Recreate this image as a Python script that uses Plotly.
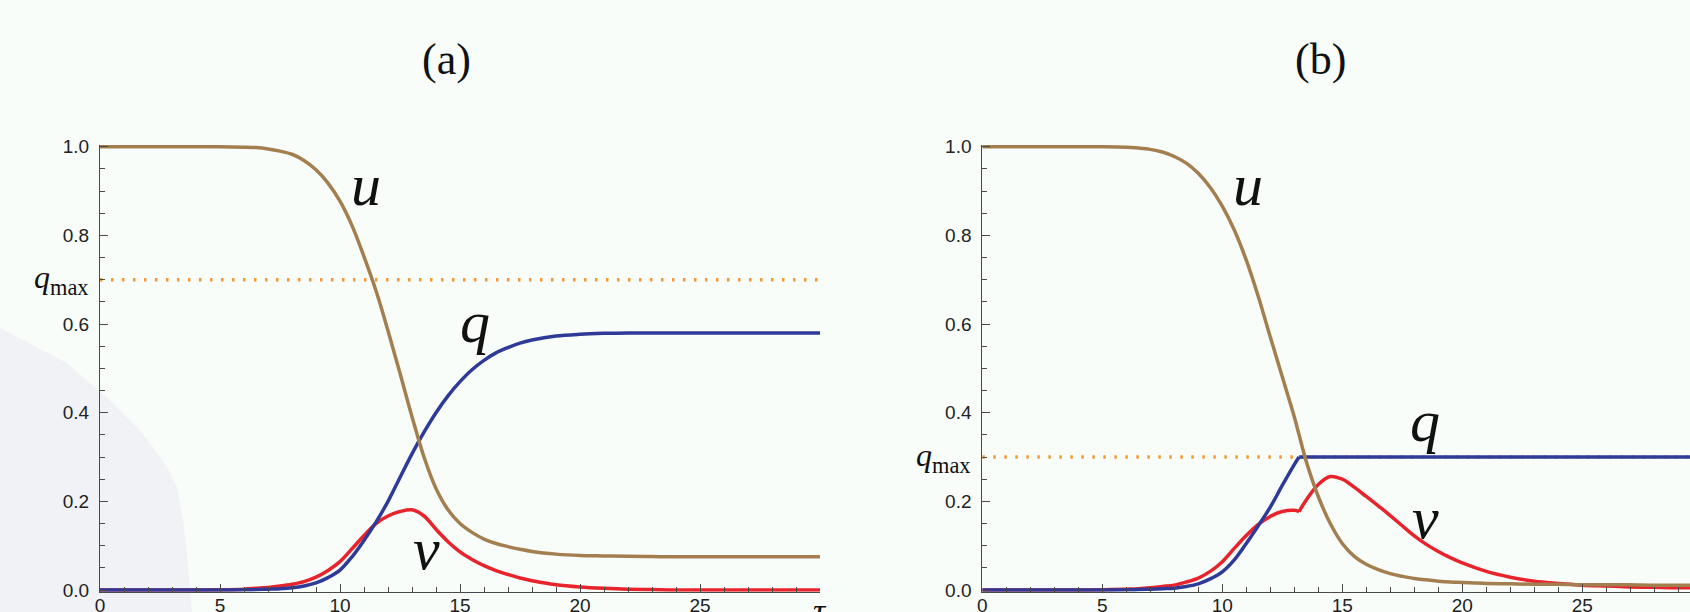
import plotly.graph_objects as go

# ---------------- data ----------------
t_a = [0, 1, 2, 3, 4, 5, 6, 6.5, 7, 7.5, 8, 8.5, 9, 9.5, 10, 10.5, 11, 11.5, 12, 12.5,
       13, 13.5, 14, 14.5, 15, 15.5, 16, 16.5, 17, 17.5, 18, 19, 20, 21, 22, 23, 24,
       25, 26, 27, 28, 29, 30]
u_a = [1, 1, 1, 1, 1, 1, 0.999, 0.998, 0.995, 0.990, 0.983, 0.969, 0.948, 0.918, 0.877,
       0.822, 0.752, 0.675, 0.585, 0.489, 0.391, 0.300, 0.229, 0.181, 0.150, 0.130,
       0.115, 0.105, 0.098, 0.092, 0.087, 0.081, 0.078, 0.077, 0.076, 0.0755, 0.075,
       0.075, 0.075, 0.075, 0.075, 0.075, 0.075]
q_a = [0, 0, 0, 0, 0, 0, 0.0005, 0.001, 0.002, 0.003, 0.005, 0.009, 0.016, 0.028, 0.045,
       0.075, 0.112, 0.153, 0.200, 0.254, 0.307, 0.356, 0.400, 0.438, 0.470, 0.497,
       0.518, 0.535, 0.547, 0.557, 0.564, 0.573, 0.577, 0.579, 0.580, 0.580, 0.580,
       0.580, 0.580, 0.580, 0.580, 0.580, 0.580]
v_a = [0, 0, 0, 0, 0, 0.0005, 0.002, 0.004, 0.006, 0.009, 0.013, 0.019, 0.029, 0.044,
       0.064, 0.093, 0.123, 0.150, 0.167, 0.177, 0.181, 0.167, 0.137, 0.109, 0.086,
       0.069, 0.055, 0.044, 0.035, 0.027, 0.021, 0.012, 0.007, 0.004, 0.002, 0.001, 0,
       0, 0, 0, 0, 0, 0]
qmax_a = 0.7

t_b = [0, 1, 2, 3, 4, 5, 6, 6.5, 7, 7.5, 8, 8.5, 9, 9.5, 10, 10.5, 11, 11.5, 12, 12.5,
       13, 13.2, 13.5, 14, 14.5, 15, 15.5, 16, 16.5, 17, 17.5, 18, 18.5, 19, 19.5, 20,
       21, 22, 23, 24, 25, 26, 27, 28, 29, 30]
u_b = [1, 1, 1, 1, 1, 1, 0.999, 0.997, 0.994, 0.988, 0.978, 0.963, 0.940, 0.908, 0.866,
       0.812, 0.744, 0.662, 0.571, 0.481, 0.391, 0.350, 0.290, 0.211, 0.150, 0.105,
       0.076, 0.058, 0.046, 0.037, 0.031, 0.026, 0.023, 0.020, 0.018, 0.017, 0.015,
       0.014, 0.013, 0.013, 0.012, 0.012, 0.012, 0.011, 0.011, 0.011]
q_b = [0, 0, 0, 0, 0, 0, 0.0005, 0.001, 0.002, 0.003, 0.004, 0.008, 0.014, 0.025, 0.041,
       0.068, 0.105, 0.145, 0.187, 0.236, 0.283, 0.300, 0.300, 0.300, 0.300, 0.300,
       0.300, 0.300, 0.300, 0.300, 0.300, 0.300, 0.300, 0.300, 0.300, 0.300, 0.300,
       0.300, 0.300, 0.300, 0.300, 0.300, 0.300, 0.300, 0.300, 0.300]
v_b = [0, 0, 0, 0, 0, 0.0005, 0.002, 0.003, 0.005, 0.008, 0.011, 0.018, 0.027, 0.042,
       0.064, 0.094, 0.123, 0.148, 0.166, 0.177, 0.180, 0.177, 0.203, 0.238, 0.256,
       0.250, 0.232, 0.211, 0.190, 0.168, 0.145, 0.122, 0.103, 0.087, 0.073, 0.061,
       0.042, 0.029, 0.020, 0.015, 0.011, 0.009, 0.007, 0.006, 0.005, 0.005]
qmax_b = 0.3
kink_b = 21  # index of t = 13.2 where q reaches qmax

y_ticks = [0, 0.2, 0.4, 0.6, 0.8, 1.0]
y_ticktext = ["0.0", "0.2", "0.4", "0.6", "0.8", "1.0"]
x_ticks = [0, 5, 10, 15, 20, 25, 30]
x_ticktext = ["0", "5", "10", "15", "20", "25", ""]

# ---------------- style ----------------
C_U = "#A37F50"
C_Q = "#2F3A98"
C_V = "#E8232B"
C_QMAX = "#F59A35"
LW = 3.5
BG = "#F8FDFA"
AX = "#4A4A4A"

W, H = 1690, 612
fig = go.Figure()


def line(x, y, color, xa, ya, shape="spline", dash=None, width=LW):
    fig.add_trace(go.Scatter(
        x=x, y=y, mode="lines", xaxis=xa, yaxis=ya, hoverinfo="skip",
        line=dict(color=color, width=width, shape=shape, smoothing=1.0, dash=dash),
        showlegend=False))


# panel (a)
line([t_a[0], t_a[-1]], [qmax_a, qmax_a], C_QMAX, "x", "y", shape="linear",
     dash="2.5px,8.5px", width=3.5)
line(t_a, v_a, C_V, "x", "y")
line(t_a, q_a, C_Q, "x", "y")
line(t_a, u_a, C_U, "x", "y")

# panel (b)
line([t_b[0], t_b[-1]], [qmax_b, qmax_b], C_QMAX, "x2", "y2", shape="linear",
     dash="2.5px,8.5px", width=3.5)
line(t_b[:kink_b + 1], v_b[:kink_b + 1], C_V, "x2", "y2")
line(t_b[kink_b:], v_b[kink_b:], C_V, "x2", "y2")
line(t_b[:kink_b + 1], q_b[:kink_b + 1], C_Q, "x2", "y2")
line(t_b[kink_b:], q_b[kink_b:], C_Q, "x2", "y2", shape="linear")
line(t_b, u_b, C_U, "x2", "y2")

# ---------------- axes ----------------
y_dom = [(H - 591.8) / H, (H - 144.5) / H]
tickfont = dict(family="Liberation Sans, Arial, sans-serif", size=19, color="#222")
common = dict(showline=True, linecolor=AX, linewidth=1, ticks="inside", ticklen=8,
              tickcolor=AX, tickwidth=1, showgrid=False, zeroline=False,
              tickfont=tickfont, fixedrange=True, automargin=False)
yax = dict(common, range=[-0.004, 1.005], tickvals=y_ticks, ticktext=y_ticktext,
           domain=y_dom, ticklabelstandoff=6,
           minor=dict(ticks="inside", ticklen=5, tickcolor=AX, dtick=0.05, tick0=0))
xax = dict(common, tickvals=x_ticks, ticktext=x_ticktext, ticklabelstandoff=-4,
           minor=dict(ticks="inside", ticklen=5, tickcolor=AX, dtick=1, tick0=0))

fig.update_layout(
    width=W, height=H, margin=dict(l=0, r=0, t=0, b=0, autoexpand=False),
    paper_bgcolor=BG, plot_bgcolor="rgba(0,0,0,0)",
    xaxis=dict(xax, domain=[100 / W, 820 / W], range=[0, 30], anchor="y"),
    yaxis=dict(yax, anchor="x"),
    xaxis2=dict(xax, domain=[982.3 / W, 1.0], range=[0, 29.49], anchor="y2"),
    yaxis2=dict(yax, anchor="x2"),
)

# faint grey artefact in the lower-left corner of the reference
blob = [(0, 328), (33, 345), (67, 363), (90, 383), (113, 403), (137, 427), (153, 447),
        (167, 467), (177, 487), (183, 520), (187, 553), (192, 612), (0, 612)]
path = "M " + " L ".join(f"{px / W:.5f},{1 - py / H:.5f}" for px, py in blob) + " Z"
fig.add_shape(type="path", path=path, xref="paper", yref="paper",
              fillcolor="#F1F2F5", line=dict(width=0), layer="below")

serif = "Liberation Serif, Times New Roman, serif"
ann = []
for xa, ya, lab, x, y in [("x", "y", "u", 11.08, 0.918), ("x", "y", "q", 15.63, 0.584),
                          ("x", "y", "v", 13.62, 0.097),
                          ("x2", "y2", "u", 11.08, 0.918), ("x2", "y2", "q", 18.45, 0.362),
                          ("x2", "y2", "v", 18.45, 0.167)]:
    ann.append(dict(text=f"<i>{lab}</i>", x=x, y=y, xref=xa, yref=ya, showarrow=False,
                    xanchor="center", yanchor="middle",
                    yshift=-2 if lab != "q" else 9,
                    font=dict(family=serif, size=60, color="#111")))
for xa, ya, qm in [("x", "y", qmax_a), ("x2", "y2", qmax_b)]:
    ann.append(dict(text="<i>q</i><sub>max</sub>", x=0, y=qm, xref=xa, yref=ya,
                    showarrow=False, xanchor="right", yanchor="middle", xshift=-9,
                    font=dict(family=serif, size=32, color="#111")))
ann.append(dict(text="<i>τ</i>", x=30, y=0, xref="x", yref="y", showarrow=False,
                xanchor="center", yanchor="top", yshift=0,
                font=dict(family=serif, size=34, color="#111")))
for lab, px in [("(a)", 446), ("(b)", 1320)]:
    ann.append(dict(text=lab, x=px / W, y=1 - 60 / H, xref="paper", yref="paper",
                    showarrow=False, xanchor="center", yanchor="middle",
                    font=dict(family=serif, size=44, color="#111")))
fig.update_layout(annotations=ann)

fig.write_html("out.html", config={"displayModeBar": False},
               post_script="document.body.style.margin='0';document.body.style.overflow='hidden';")
